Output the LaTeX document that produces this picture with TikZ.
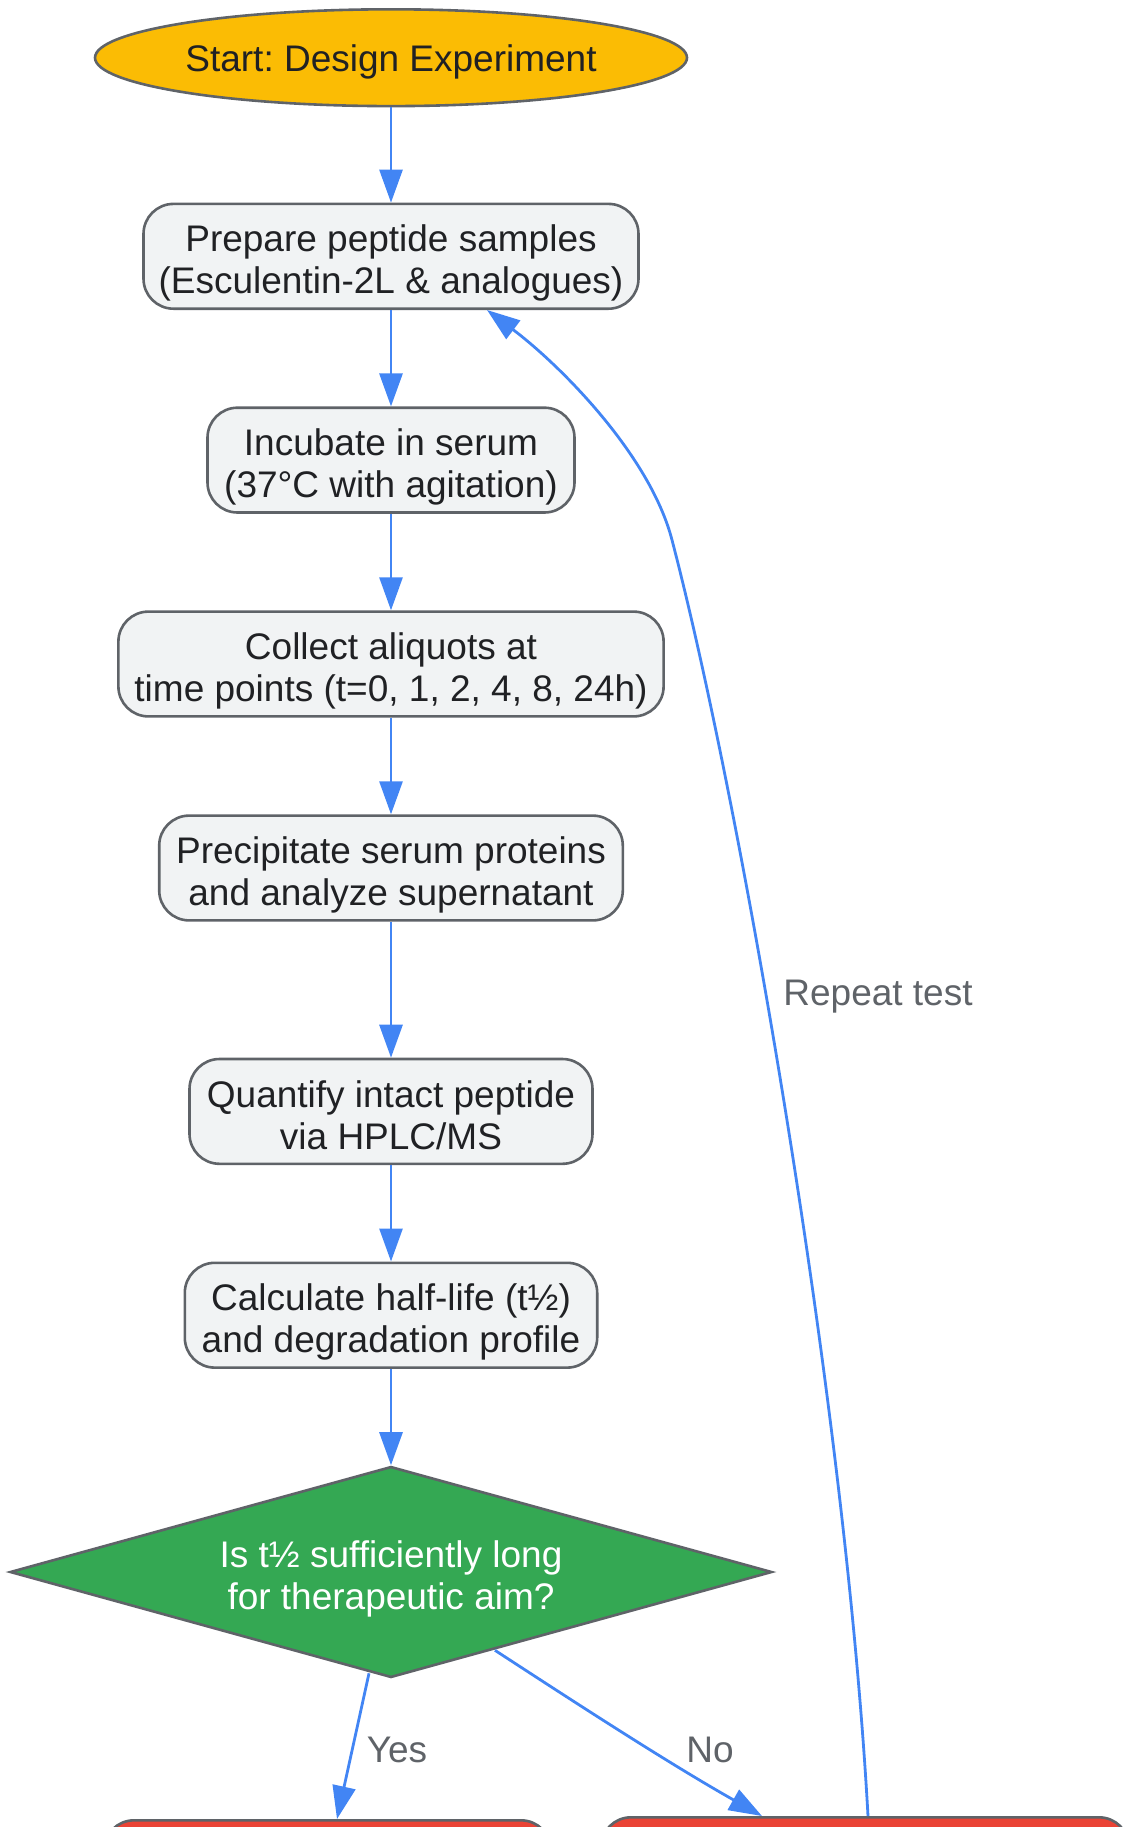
\documentclass[tikz,border=0pt]{standalone}
\usepackage{fontspec}
\setmainfont{Liberation Sans}
\usetikzlibrary{shapes.geometric,arrows.meta,calc}
\frenchspacing
\definecolor{cyellow}{HTML}{FBBC04}
\definecolor{cborder}{HTML}{5F6368}
\definecolor{cbox}{HTML}{F1F3F4}
\definecolor{cgreen}{HTML}{34A853}
\definecolor{cred}{HTML}{EA4335}
\definecolor{cblue}{HTML}{4285F4}
\definecolor{ctext}{HTML}{202124}
\definecolor{clabel}{HTML}{5F6368}
\newcommand\mytxt[2][4.1pt]{\raisebox{-#1}[\height][\depth]{\begin{tabular}{@{}c@{}}#2\end{tabular}}}
\begin{document}
\begin{tikzpicture}[x=0.5pt,y=-0.5pt,
  font=\fontsize{18.5pt}{21pt}\selectfont,
  base/.style={draw=cborder, line width=1.3pt, text=ctext, align=center, inner sep=0pt},
  procbox/.style={base, rectangle, rounded corners=15pt, fill=cbox, minimum height=52.4pt},
  startnode/.style={base, ellipse, fill=cyellow},
  decnode/.style={base, diamond, fill=cgreen, text=white, aspect=3.6, minimum width=381pt, minimum height=105.5pt},
  endbox/.style={base, rectangle, rounded corners=15pt, fill=cred, minimum height=60pt},
  arr/.style={draw=cblue, line width=1.4pt, -{Triangle[length=16.5pt,width=11.5pt]}},
  elabel/.style={text=clabel, inner sep=0pt}
]
\useasboundingbox (0,0) rectangle (1130,1827);
\clip (0,0) rectangle (1130,1827);

\node[startnode, minimum width=296pt, minimum height=48.4pt] (start) at (391,57.7) {\mytxt[2.5pt]{Start: Design Experiment}};
\node[procbox, minimum width=247.5pt] (b1) at (391,256.3) {\mytxt{Prepare peptide samples\\(Esculentin-2L \& analogues)}};
\node[procbox, minimum width=183.5pt] (b2) at (391,460.1) {\mytxt{Incubate in serum\\(37°C with agitation)}};
\node[procbox, minimum width=272.6pt] (b3) at (391,664) {\mytxt{Collect aliquots at\\time points (t=0, 1, 2, 4, 8, 24h)}};
\node[procbox, minimum width=231.8pt] (b4) at (391,868) {\mytxt{Precipitate serum proteins\\and analyze supernatant}};
\node[procbox, minimum width=201.5pt] (b5) at (391,1111.4) {\mytxt{Quantify intact peptide\\via HPLC/MS}};
\node[procbox, minimum width=206.2pt] (b6) at (391,1315.2) {\mytxt{Calculate half-life (t½)\\and degradation profile}};
\node[decnode] (dec) at (391,1572) {\mytxt{Is t½ sufficiently long\\for therapeutic aim?}};
\node[endbox, anchor=north, minimum width=223.5pt] (yesbox) at (327.5,1819) {};
\node[endbox, anchor=north, minimum width=264pt] (nobox) at (865,1816) {};

\draw[arr] (start) -- (b1);
\draw[arr] (b1) -- (b2);
\draw[arr] (b2) -- (b3);
\draw[arr] (b3) -- (b4);
\draw[arr] (b4) -- (b5);
\draw[arr] (b5) -- (b6);
\draw[arr] (b6) -- (dec);

\draw[arr] ([xshift=-11pt,yshift=2.75pt]dec.south) -- ([xshift=4.75pt]yesbox.north);
\draw[arr] ([xshift=52pt,yshift=14.25pt]dec.south) .. controls (582,1707) and (670,1764) .. ([xshift=-51.5pt]nobox.north);
\draw[arr] ([xshift=1.5pt]nobox.north) .. controls (845,1400) and (740,800) .. (672,540) .. controls (650,455) and (560,365) .. ([xshift=48pt]b1.south);

\node[elabel] (lyes) at (397,1750) {Yes};
\node[elabel] (lno) at (710,1750) {No};
\node[elabel] (lrep) at (878,997) {Repeat test};
\end{tikzpicture}
\end{document}
